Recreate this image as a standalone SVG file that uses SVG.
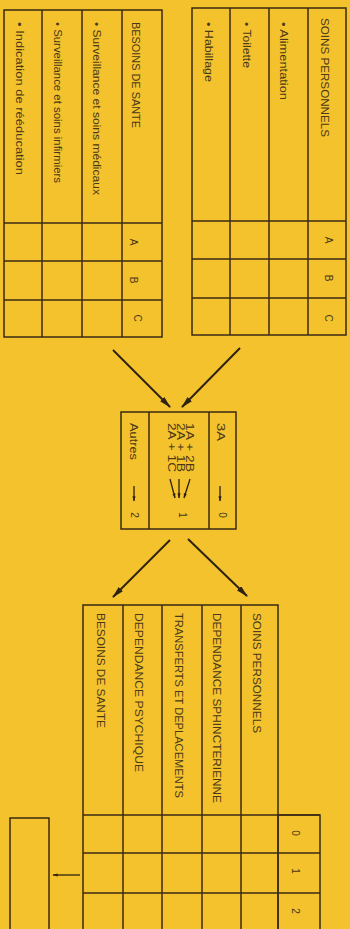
<svg xmlns="http://www.w3.org/2000/svg" width="350" height="929" viewBox="0 0 350 929">
<defs>
<style>
.bg{fill:#F3C22C}
.cell{fill:none;stroke:#3a2a12;stroke-width:1.5}
.t{font-family:"Liberation Sans","Open Sans",sans-serif;font-size:11px;fill:#4a3818}
.s{font-family:"Liberation Sans","Open Sans",sans-serif;font-size:10px;fill:#4a3818}
.conn{stroke:#2e2210;stroke-width:2;fill:none}
.small{stroke:#2e2210;stroke-width:1.3;fill:none}
</style>
<marker id="ah" viewBox="0 0 12 6" refX="11" refY="3" markerWidth="6" markerHeight="3" orient="auto" markerUnits="strokeWidth">
<path d="M0,0 L12,3 L0,6 z" fill="#2e2210"/>
</marker>
<marker id="ahs" viewBox="0 0 10 6" refX="9" refY="3" markerWidth="4" markerHeight="3" orient="auto" markerUnits="strokeWidth">
<path d="M0,0 L10,3 L0,6 z" fill="#2e2210"/>
</marker>
</defs>
<rect class="bg" x="0" y="0" width="350" height="929"/>

<g id="besoins-sante">
<rect class="cell" x="4" y="10" width="158" height="327"/>
<line class="cell" x1="42" y1="10" x2="42" y2="337"/>
<line class="cell" x1="82" y1="10" x2="82" y2="337"/>
<line class="cell" x1="122" y1="10" x2="122" y2="337"/>
<line class="cell" x1="4" y1="223" x2="162" y2="223"/>
<line class="cell" x1="4" y1="261" x2="162" y2="261"/>
<line class="cell" x1="4" y1="300" x2="162" y2="300"/>
<text class="t" transform="translate(132,22) rotate(90)" textLength="106" lengthAdjust="spacingAndGlyphs">BESOINS DE SANTE</text>
<text class="t" transform="translate(93,22) rotate(90)" textLength="173" lengthAdjust="spacingAndGlyphs">• Surveillance et soins médicaux</text>
<text class="t" transform="translate(54,22) rotate(90)" textLength="161" lengthAdjust="spacingAndGlyphs">• Surveillance et soins infirmiers</text>
<text class="t" transform="translate(16,22) rotate(90)" textLength="153" lengthAdjust="spacingAndGlyphs">• Indication de rééducation</text>
<text class="s" transform="translate(130,242) rotate(90)" text-anchor="middle">A</text>
<text class="s" transform="translate(130,280) rotate(90)" text-anchor="middle">B</text>
<text class="s" transform="translate(134,318) rotate(90)" text-anchor="middle">C</text>
</g>

<g id="soins-personnels">
<rect class="cell" x="192" y="8" width="154" height="327"/>
<line class="cell" x1="230" y1="8" x2="230" y2="335"/>
<line class="cell" x1="269" y1="8" x2="269" y2="335"/>
<line class="cell" x1="308" y1="8" x2="308" y2="335"/>
<line class="cell" x1="192" y1="221" x2="346" y2="221"/>
<line class="cell" x1="192" y1="259" x2="346" y2="259"/>
<line class="cell" x1="192" y1="298" x2="346" y2="298"/>
<text class="t" transform="translate(321,18) rotate(90)" textLength="119" lengthAdjust="spacingAndGlyphs">SOINS PERSONNELS</text>
<text class="t" transform="translate(280,22) rotate(90)" textLength="78" lengthAdjust="spacingAndGlyphs">• Alimentation</text>
<text class="t" transform="translate(243,22) rotate(90)" textLength="46" lengthAdjust="spacingAndGlyphs">• Toilette</text>
<text class="t" transform="translate(205,22) rotate(90)" textLength="60" lengthAdjust="spacingAndGlyphs">• Habillage</text>
<text class="s" transform="translate(325,240) rotate(90)" text-anchor="middle">A</text>
<text class="s" transform="translate(325,278) rotate(90)" text-anchor="middle">B</text>
<text class="s" transform="translate(325,318) rotate(90)" text-anchor="middle">C</text>
</g>

<g id="cotation">
<rect class="cell" x="121" y="412" width="115" height="117"/>
<line class="cell" x1="149" y1="412" x2="149" y2="529"/>
<line class="cell" x1="209" y1="412" x2="209" y2="529"/>
<text class="s" transform="translate(217,423) rotate(90)" textLength="18" lengthAdjust="spacingAndGlyphs">3A</text>
<text class="s" transform="translate(186,423) rotate(90)" textLength="49" lengthAdjust="spacingAndGlyphs">1A + 2B</text>
<text class="s" transform="translate(177,423) rotate(90)" textLength="49" lengthAdjust="spacingAndGlyphs">2A + 1B</text>
<text class="s" transform="translate(168,423) rotate(90)" textLength="49" lengthAdjust="spacingAndGlyphs">2A + 1C</text>
<text class="s" transform="translate(130,423) rotate(90)" textLength="37" lengthAdjust="spacingAndGlyphs">Autres</text>
<line class="small" x1="220" y1="486" x2="220" y2="501" marker-end="url(#ahs)"/>
<line class="small" x1="134" y1="486" x2="134" y2="501" marker-end="url(#ahs)"/>
<line class="small" x1="170" y1="479" x2="175" y2="498" marker-end="url(#ahs)"/>
<line class="small" x1="179" y1="479" x2="179" y2="498" marker-end="url(#ahs)"/>
<line class="small" x1="190" y1="479" x2="184" y2="498" marker-end="url(#ahs)"/>
<text class="s" transform="translate(219,515) rotate(90)" text-anchor="middle">0</text>
<text class="s" transform="translate(179,515) rotate(90)" text-anchor="middle">1</text>
<text class="s" transform="translate(131,515) rotate(90)" text-anchor="middle">2</text>
</g>

<g id="grille">
<rect class="cell" x="83" y="605" width="195" height="330"/>
<line class="cell" x1="123" y1="605" x2="123" y2="935"/>
<line class="cell" x1="162" y1="605" x2="162" y2="935"/>
<line class="cell" x1="202" y1="605" x2="202" y2="935"/>
<line class="cell" x1="241" y1="605" x2="241" y2="935"/>
<rect class="cell" x="278" y="815" width="42" height="120"/>
<line class="cell" x1="83" y1="815" x2="320" y2="815"/>
<line class="cell" x1="83" y1="853" x2="320" y2="853"/>
<line class="cell" x1="83" y1="893" x2="320" y2="893"/>
<text class="t" transform="translate(253,613) rotate(90)" textLength="120" lengthAdjust="spacingAndGlyphs">SOINS PERSONNELS</text>
<text class="t" transform="translate(213,613) rotate(90)" textLength="190" lengthAdjust="spacingAndGlyphs">DEPENDANCE SPHINCTERIENNE</text>
<text class="t" transform="translate(175,613) rotate(90)" textLength="185" lengthAdjust="spacingAndGlyphs">TRANSFERTS ET DEPLACEMENTS</text>
<text class="t" transform="translate(135,613) rotate(90)" textLength="159" lengthAdjust="spacingAndGlyphs">DEPENDANCE PSYCHIQUE</text>
<text class="t" transform="translate(97,613) rotate(90)" textLength="115" lengthAdjust="spacingAndGlyphs">BESOINS DE SANTE</text>
<text class="s" transform="translate(292,833) rotate(90)" text-anchor="middle">0</text>
<text class="s" transform="translate(292,871) rotate(90)" text-anchor="middle">1</text>
<text class="s" transform="translate(292,911) rotate(90)" text-anchor="middle">2</text>
</g>

<g id="resultat">
<rect class="cell" x="10" y="818" width="39" height="120"/>
</g>

<g id="connectors">
<line class="conn" x1="113" y1="350" x2="170" y2="407" marker-end="url(#ah)"/>
<line class="conn" x1="240" y1="348" x2="182" y2="407" marker-end="url(#ah)"/>
<line class="conn" x1="170" y1="540" x2="113" y2="597" marker-end="url(#ah)"/>
<line class="conn" x1="188" y1="539" x2="247" y2="596" marker-end="url(#ah)"/>
<line class="small" x1="80" y1="875" x2="53" y2="875" marker-end="url(#ahs)"/>
</g>
</svg>
